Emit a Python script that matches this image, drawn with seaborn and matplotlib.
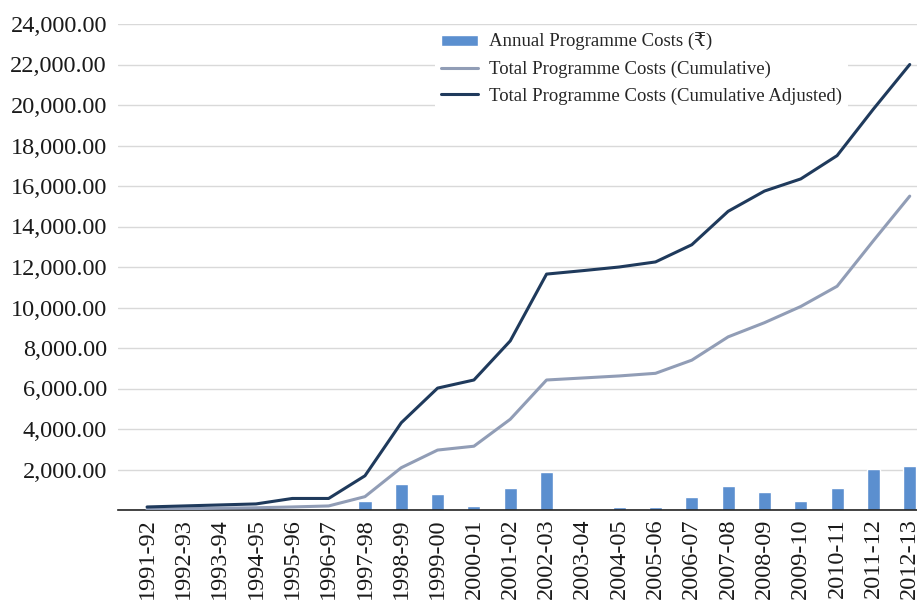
import pandas as pd
import matplotlib
matplotlib.use('Agg')
import matplotlib.pyplot as plt
import seaborn as sns

# 年度 / 費用資料
years = ['1991-92', '1992-93', '1993-94', '1994-95', '1995-96', '1996-97', '1997-98',
         '1998-99', '1999-00', '2000-01', '2001-02', '2002-03', '2003-04', '2004-05',
         '2005-06', '2006-07', '2007-08', '2008-09', '2009-10', '2010-11', '2011-12', '2012-13']
annual = [0, 0, 0, 0, 70, 0, 440, 1280, 790, 200, 1090, 1880, 40, 130,
          130, 640, 1190, 890, 450, 1090, 2030, 2180]
cumulative = [30, 60, 90, 110, 150, 200, 660, 2090, 2960, 3150, 4480, 6420, 6520, 6620,
              6750, 7400, 8550, 9250, 10050, 11050, 13300, 15500]
cumulative_adj = [150, 200, 250, 300, 570, 570, 1690, 4310, 6020, 6420, 8350, 11650, 11820, 12000,
                  12250, 13100, 14750, 15750, 16350, 17500, 19800, 22000]

labels = ['Annual Programme Costs (\u20b9)',
          'Total Programme Costs (Cumulative)',
          'Total Programme Costs (Cumulative Adjusted)']

df = pd.DataFrame({'Year': years, 'Annual': annual,
                   'Cumulative': cumulative, 'Adjusted': cumulative_adj})

sns.set_style('white')
plt.rcParams['font.family'] = ['Liberation Serif', 'DejaVu Serif', 'Noto Sans', 'DejaVu Sans']

fig = plt.figure(figsize=(9.17, 6.09), dpi=100)
ax = fig.add_axes([118 / 917, 99 / 609, 799 / 917, 486 / 609])

sns.barplot(x='Year', y='Annual', data=df, color='#5B8FCF', width=0.36,
            saturation=1, ax=ax, label=labels[0], zorder=2)
sns.lineplot(x='Year', y='Cumulative', data=df, color='#919DB6', linewidth=2.2,
             sort=False, ax=ax, label=labels[1], zorder=3)
sns.lineplot(x='Year', y='Adjusted', data=df, color='#1F3A5C', linewidth=2.2,
             sort=False, ax=ax, label=labels[2], zorder=4)

ax.set_xlim(-0.8, 21.2)
ax.set_ylim(0, 24000)
ax.set_yticks(range(0, 24001, 2000))
ax.set_yticklabels([''] + [f'{v:,.2f}' for v in range(2000, 24001, 2000)])
ax.yaxis.grid(True, color='#D9D9D9', linewidth=1)
ax.set_axisbelow(True)
ax.set_xlabel('')
ax.set_ylabel('')
plt.xticks(rotation=90, fontsize=17.5)
plt.yticks(fontsize=17.5)
ax.tick_params(axis='both', length=0, pad=8, colors='#1a1a1a')
ax.tick_params(axis='x', pad=6)
for s in ['top', 'right', 'left']:
    ax.spines[s].set_visible(False)
ax.spines['bottom'].set_color('#222222')
ax.spines['bottom'].set_linewidth(1.2)

handles, lbls = ax.get_legend_handles_labels()
order = [lbls.index(l) for l in labels]
leg = ax.legend([handles[i] for i in order], [lbls[i] for i in order],
                loc='upper left', bbox_to_anchor=(0.385, 1.012), frameon=True,
                fontsize=13.5, handlelength=2.0, handleheight=0.6, handletextpad=0.6,
                labelspacing=0.5, borderpad=0.3, framealpha=1)
leg.get_frame().set_edgecolor('white')
leg.get_frame().set_linewidth(0)

fig.savefig('out.png', dpi=100)
